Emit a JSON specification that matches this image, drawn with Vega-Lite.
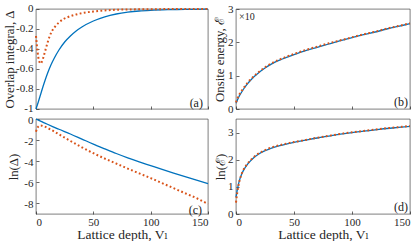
{
  "$schema": "https://vega.github.io/schema/vega-lite/v6.json",
  "padding": {"left": 2, "top": 1, "right": 0, "bottom": 0},
  "background": "white",
  "columns": 2,
  "spacing": {"row": 10, "column": 28},
  "bounds": "flush",
  "config": {
    "font": "Times New Roman, Liberation Serif, DejaVu Serif, serif",
    "view": {"stroke": "#262626", "strokeWidth": 0.6},
    "text": {"font": "Times New Roman, Liberation Serif, DejaVu Serif, serif"},
    "axis": {
      "grid": false,
      "domain": false,
      "labelFont": "Times New Roman, Liberation Serif, DejaVu Serif, serif",
      "labelFontSize": 11,
      "labelColor": "#262626",
      "titleFont": "Times New Roman, Liberation Serif, DejaVu Serif, serif",
      "titleFontSize": 13.5,
      "titleFontWeight": "normal",
      "titleColor": "#262626",
      "tickColor": "#262626",
      "tickWidth": 0.7,
      "tickSize": -3,
      "labelPadding": 6
    },
    "axisY": {"titleFontSize": 12.8},
    "line": {"interpolate": "monotone"}
  },
  "datasets": {
    "a": [
      {"V": 0, "s": "full", "y": -1.0}, {"V": 2, "s": "full", "y": -0.93}, {"V": 4, "s": "full", "y": -0.855}, {"V": 6, "s": "full", "y": -0.78}, {"V": 8, "s": "full", "y": -0.71}, {"V": 10, "s": "full", "y": -0.645}, {"V": 13, "s": "full", "y": -0.56}, {"V": 16, "s": "full", "y": -0.49}, {"V": 20, "s": "full", "y": -0.41}, {"V": 25, "s": "full", "y": -0.33}, {"V": 30, "s": "full", "y": -0.27}, {"V": 35, "s": "full", "y": -0.22}, {"V": 40, "s": "full", "y": -0.18}, {"V": 50, "s": "full", "y": -0.12}, {"V": 60, "s": "full", "y": -0.078}, {"V": 70, "s": "full", "y": -0.05}, {"V": 80, "s": "full", "y": -0.032}, {"V": 90, "s": "full", "y": -0.02}, {"V": 100, "s": "full", "y": -0.013}, {"V": 115, "s": "full", "y": -0.007}, {"V": 130, "s": "full", "y": -0.004}, {"V": 150, "s": "full", "y": -0.002},
      {"V": 0, "s": "approx", "y": -0.27}, {"V": 0.5, "s": "approx", "y": -0.33}, {"V": 1, "s": "approx", "y": -0.39}, {"V": 1.5, "s": "approx", "y": -0.44}, {"V": 2, "s": "approx", "y": -0.48}, {"V": 2.5, "s": "approx", "y": -0.51}, {"V": 3, "s": "approx", "y": -0.53}, {"V": 3.5, "s": "approx", "y": -0.54}, {"V": 4, "s": "approx", "y": -0.545}, {"V": 4.5, "s": "approx", "y": -0.54}, {"V": 5, "s": "approx", "y": -0.53}, {"V": 6, "s": "approx", "y": -0.5}, {"V": 7, "s": "approx", "y": -0.46}, {"V": 8, "s": "approx", "y": -0.42}, {"V": 10, "s": "approx", "y": -0.34}, {"V": 12, "s": "approx", "y": -0.27}, {"V": 14, "s": "approx", "y": -0.22}, {"V": 17, "s": "approx", "y": -0.17}, {"V": 20, "s": "approx", "y": -0.135}, {"V": 24, "s": "approx", "y": -0.1}, {"V": 28, "s": "approx", "y": -0.08}, {"V": 35, "s": "approx", "y": -0.055}, {"V": 42, "s": "approx", "y": -0.037}, {"V": 50, "s": "approx", "y": -0.025}, {"V": 57, "s": "approx", "y": -0.017}, {"V": 70, "s": "approx", "y": -0.008}, {"V": 85, "s": "approx", "y": -0.004}, {"V": 100, "s": "approx", "y": -0.002}, {"V": 150, "s": "approx", "y": 0}
    ],
    "b": [
      {"V": 0, "s": "full", "y": 0.17}, {"V": 1, "s": "full", "y": 0.25}, {"V": 2, "s": "full", "y": 0.33}, {"V": 3, "s": "full", "y": 0.4}, {"V": 4, "s": "full", "y": 0.46}, {"V": 6, "s": "full", "y": 0.57}, {"V": 8, "s": "full", "y": 0.67}, {"V": 10, "s": "full", "y": 0.76}, {"V": 12, "s": "full", "y": 0.84}, {"V": 15, "s": "full", "y": 0.95}, {"V": 20, "s": "full", "y": 1.1}, {"V": 25, "s": "full", "y": 1.23}, {"V": 30, "s": "full", "y": 1.34}, {"V": 40, "s": "full", "y": 1.5}, {"V": 50, "s": "full", "y": 1.63}, {"V": 60, "s": "full", "y": 1.75}, {"V": 70, "s": "full", "y": 1.85}, {"V": 80, "s": "full", "y": 1.95}, {"V": 90, "s": "full", "y": 2.05}, {"V": 100, "s": "full", "y": 2.14}, {"V": 110, "s": "full", "y": 2.23}, {"V": 120, "s": "full", "y": 2.31}, {"V": 130, "s": "full", "y": 2.4}, {"V": 140, "s": "full", "y": 2.48}, {"V": 150, "s": "full", "y": 2.56},
      {"V": 0, "s": "approx", "y": 0.2}, {"V": 1, "s": "approx", "y": 0.29}, {"V": 2, "s": "approx", "y": 0.37}, {"V": 3, "s": "approx", "y": 0.44}, {"V": 4, "s": "approx", "y": 0.5}, {"V": 6, "s": "approx", "y": 0.6}, {"V": 8, "s": "approx", "y": 0.7}, {"V": 10, "s": "approx", "y": 0.79}, {"V": 12, "s": "approx", "y": 0.87}, {"V": 15, "s": "approx", "y": 0.97}, {"V": 20, "s": "approx", "y": 1.12}, {"V": 25, "s": "approx", "y": 1.25}, {"V": 30, "s": "approx", "y": 1.36}, {"V": 40, "s": "approx", "y": 1.52}, {"V": 50, "s": "approx", "y": 1.65}, {"V": 60, "s": "approx", "y": 1.77}, {"V": 70, "s": "approx", "y": 1.87}, {"V": 80, "s": "approx", "y": 1.97}, {"V": 90, "s": "approx", "y": 2.06}, {"V": 100, "s": "approx", "y": 2.15}, {"V": 110, "s": "approx", "y": 2.24}, {"V": 120, "s": "approx", "y": 2.32}, {"V": 130, "s": "approx", "y": 2.41}, {"V": 140, "s": "approx", "y": 2.49}, {"V": 150, "s": "approx", "y": 2.57}
    ],
    "c": [
      {"V": 0, "s": "full", "y": 0}, {"V": 5, "s": "full", "y": -0.25}, {"V": 10, "s": "full", "y": -0.5}, {"V": 15, "s": "full", "y": -0.74}, {"V": 20, "s": "full", "y": -0.97}, {"V": 30, "s": "full", "y": -1.42}, {"V": 40, "s": "full", "y": -1.9}, {"V": 50, "s": "full", "y": -2.38}, {"V": 60, "s": "full", "y": -2.83}, {"V": 70, "s": "full", "y": -3.27}, {"V": 80, "s": "full", "y": -3.68}, {"V": 90, "s": "full", "y": -4.06}, {"V": 100, "s": "full", "y": -4.42}, {"V": 110, "s": "full", "y": -4.78}, {"V": 120, "s": "full", "y": -5.13}, {"V": 130, "s": "full", "y": -5.47}, {"V": 140, "s": "full", "y": -5.8}, {"V": 150, "s": "full", "y": -6.12},
      {"V": 0, "s": "approx", "y": -1.2}, {"V": 1, "s": "approx", "y": -0.88}, {"V": 2, "s": "approx", "y": -0.72}, {"V": 3, "s": "approx", "y": -0.64}, {"V": 4, "s": "approx", "y": -0.62}, {"V": 5, "s": "approx", "y": -0.63}, {"V": 7, "s": "approx", "y": -0.7}, {"V": 10, "s": "approx", "y": -0.85}, {"V": 15, "s": "approx", "y": -1.13}, {"V": 20, "s": "approx", "y": -1.45}, {"V": 30, "s": "approx", "y": -2.08}, {"V": 40, "s": "approx", "y": -2.68}, {"V": 50, "s": "approx", "y": -3.24}, {"V": 60, "s": "approx", "y": -3.75}, {"V": 70, "s": "approx", "y": -4.22}, {"V": 80, "s": "approx", "y": -4.7}, {"V": 90, "s": "approx", "y": -5.15}, {"V": 100, "s": "approx", "y": -5.6}, {"V": 110, "s": "approx", "y": -6.08}, {"V": 120, "s": "approx", "y": -6.55}, {"V": 130, "s": "approx", "y": -7.03}, {"V": 140, "s": "approx", "y": -7.5}, {"V": 150, "s": "approx", "y": -8.05}
    ],
    "d": [
      {"V": 0, "s": "full", "y": 0.62}, {"V": 1, "s": "full", "y": 0.86}, {"V": 2, "s": "full", "y": 1.07}, {"V": 3, "s": "full", "y": 1.24}, {"V": 4, "s": "full", "y": 1.37}, {"V": 5, "s": "full", "y": 1.48}, {"V": 6, "s": "full", "y": 1.57}, {"V": 8, "s": "full", "y": 1.72}, {"V": 10, "s": "full", "y": 1.84}, {"V": 13, "s": "full", "y": 1.98}, {"V": 16, "s": "full", "y": 2.1}, {"V": 20, "s": "full", "y": 2.22}, {"V": 25, "s": "full", "y": 2.33}, {"V": 30, "s": "full", "y": 2.42}, {"V": 40, "s": "full", "y": 2.54}, {"V": 50, "s": "full", "y": 2.64}, {"V": 60, "s": "full", "y": 2.72}, {"V": 70, "s": "full", "y": 2.8}, {"V": 80, "s": "full", "y": 2.87}, {"V": 90, "s": "full", "y": 2.94}, {"V": 100, "s": "full", "y": 3.0}, {"V": 110, "s": "full", "y": 3.05}, {"V": 120, "s": "full", "y": 3.1}, {"V": 130, "s": "full", "y": 3.15}, {"V": 140, "s": "full", "y": 3.19}, {"V": 150, "s": "full", "y": 3.23},
      {"V": 0, "s": "approx", "y": 0.42}, {"V": 1, "s": "approx", "y": 0.76}, {"V": 2, "s": "approx", "y": 1.02}, {"V": 3, "s": "approx", "y": 1.22}, {"V": 4, "s": "approx", "y": 1.37}, {"V": 5, "s": "approx", "y": 1.49}, {"V": 6, "s": "approx", "y": 1.59}, {"V": 8, "s": "approx", "y": 1.74}, {"V": 10, "s": "approx", "y": 1.86}, {"V": 13, "s": "approx", "y": 2.0}, {"V": 16, "s": "approx", "y": 2.12}, {"V": 20, "s": "approx", "y": 2.24}, {"V": 25, "s": "approx", "y": 2.35}, {"V": 30, "s": "approx", "y": 2.44}, {"V": 40, "s": "approx", "y": 2.56}, {"V": 50, "s": "approx", "y": 2.65}, {"V": 60, "s": "approx", "y": 2.73}, {"V": 70, "s": "approx", "y": 2.81}, {"V": 80, "s": "approx", "y": 2.88}, {"V": 90, "s": "approx", "y": 2.95}, {"V": 100, "s": "approx", "y": 3.01}, {"V": 110, "s": "approx", "y": 3.06}, {"V": 120, "s": "approx", "y": 3.11}, {"V": 130, "s": "approx", "y": 3.16}, {"V": 140, "s": "approx", "y": 3.2}, {"V": 150, "s": "approx", "y": 3.24}
    ]
  },
  "concat": [
    {
      "width": 172, "height": 100,
      "data": {"name": "a"},
      "encoding": {
        "x": {"field": "V", "type": "quantitative", "scale": {"domain": [0, 150], "nice": false}, "axis": {"values": [0, 50, 100, 150], "labels": false, "title": null}},
        "y": {"field": "y", "type": "quantitative", "scale": {"domain": [-1, 0], "nice": false}, "axis": {"values": [-1, -0.8, -0.6, -0.4, -0.2, 0], "labelOffset": -1, "labelExpr": "replace(format(datum.value, '~g'), '\u2212', '-')", "title": "Overlap integral, Δ", "titleX": -27, "titleBaseline": "middle"}}
      },
      "layer": [
        {"transform": [{"filter": "datum.s == 'full'"}], "mark": {"type": "line", "color": "#0072BD", "strokeWidth": 1.3}},
        {"transform": [{"filter": "datum.s == 'approx'"}], "mark": {"type": "line", "color": "#D95319", "strokeWidth": 2, "strokeDash": [1.8, 2.4]}},
        {"data": {"values": [{"V": 145.6, "y": -0.94, "t": "(a)"}]}, "mark": {"type": "text", "align": "right", "baseline": "middle", "fontSize": 12, "color": "#1a1a1a"}, "encoding": {"text": {"field": "t"}}}
      ]
    },
    {
      "width": 174, "height": 100,
      "data": {"name": "b"},
      "encoding": {
        "x": {"field": "V", "type": "quantitative", "scale": {"domain": [0, 150], "nice": false}, "axis": {"values": [0, 50, 100, 150], "labels": false, "title": null}},
        "y": {"field": "y", "type": "quantitative", "scale": {"domain": [0, 3], "nice": false}, "axis": {"values": [0, 1, 2, 3], "title": "Onsite energy, ℰ", "titleX": -17, "titleBaseline": "middle"}}
      },
      "layer": [
        {"transform": [{"filter": "datum.s == 'full'"}], "mark": {"type": "line", "color": "#0072BD", "strokeWidth": 1.3}},
        {"transform": [{"filter": "datum.s == 'approx'"}], "mark": {"type": "line", "color": "#D95319", "strokeWidth": 2, "strokeDash": [1.8, 2.4]}},
        {"data": {"values": [{"V": 148.3, "y": 0.21, "t": "(b)"}]}, "mark": {"type": "text", "align": "right", "baseline": "middle", "fontSize": 12, "color": "#1a1a1a"}, "encoding": {"text": {"field": "t"}}},
        {"data": {"values": [{"V": 2.6, "y": 2.76, "t": "×10"}]}, "mark": {"type": "text", "align": "left", "baseline": "middle", "fontSize": 10, "color": "#262626"}, "encoding": {"text": {"field": "t"}}}
      ]
    },
    {
      "width": 172, "height": 95,
      "data": {"name": "c"},
      "encoding": {
        "x": {"field": "V", "type": "quantitative", "scale": {"domain": [0, 150], "nice": false}, "axis": {"values": [0, 50, 100, 150], "labelPadding": 5, "title": "Lattice depth, Vₗ", "titleY": 20, "titleBaseline": "middle"}},
        "y": {"field": "y", "type": "quantitative", "scale": {"domain": [-9, 0], "nice": false}, "axis": {"values": [-8, -6, -4, -2, 0], "labelOffset": 1, "labelExpr": "replace(format(datum.value, '~g'), '\u2212', '-')", "title": "ln(Δ)", "titleX": -23, "titleBaseline": "middle"}}
      },
      "layer": [
        {"transform": [{"filter": "datum.s == 'full'"}], "mark": {"type": "line", "color": "#0072BD", "strokeWidth": 1.3}},
        {"transform": [{"filter": "datum.s == 'approx'"}], "mark": {"type": "line", "color": "#D95319", "strokeWidth": 2, "strokeDash": [1.8, 2.4]}},
        {"data": {"values": [{"V": 144.8, "y": -8.62, "t": "(c)"}]}, "mark": {"type": "text", "align": "right", "baseline": "middle", "fontSize": 12, "color": "#1a1a1a"}, "encoding": {"text": {"field": "t"}}}
      ]
    },
    {
      "width": 174, "height": 95,
      "data": {"name": "d"},
      "encoding": {
        "x": {"field": "V", "type": "quantitative", "scale": {"domain": [0, 150], "nice": false}, "axis": {"values": [0, 50, 100, 150], "labelPadding": 5, "labelFlush": true, "title": "Lattice depth, Vₗ", "titleY": 20, "titleBaseline": "middle"}},
        "y": {"field": "y", "type": "quantitative", "scale": {"domain": [0, 3.5], "nice": false}, "axis": {"values": [0, 1, 2, 3], "title": "ln(ℰ)", "titleX": -16, "titleBaseline": "middle"}}
      },
      "layer": [
        {"transform": [{"filter": "datum.s == 'full'"}], "mark": {"type": "line", "color": "#0072BD", "strokeWidth": 1.3}},
        {"transform": [{"filter": "datum.s == 'approx'"}], "mark": {"type": "line", "color": "#D95319", "strokeWidth": 2, "strokeDash": [1.8, 2.4]}},
        {"data": {"values": [{"V": 148.3, "y": 0.26, "t": "(d)"}]}, "mark": {"type": "text", "align": "right", "baseline": "middle", "fontSize": 12, "color": "#1a1a1a"}, "encoding": {"text": {"field": "t"}}}
      ]
    }
  ]
}
